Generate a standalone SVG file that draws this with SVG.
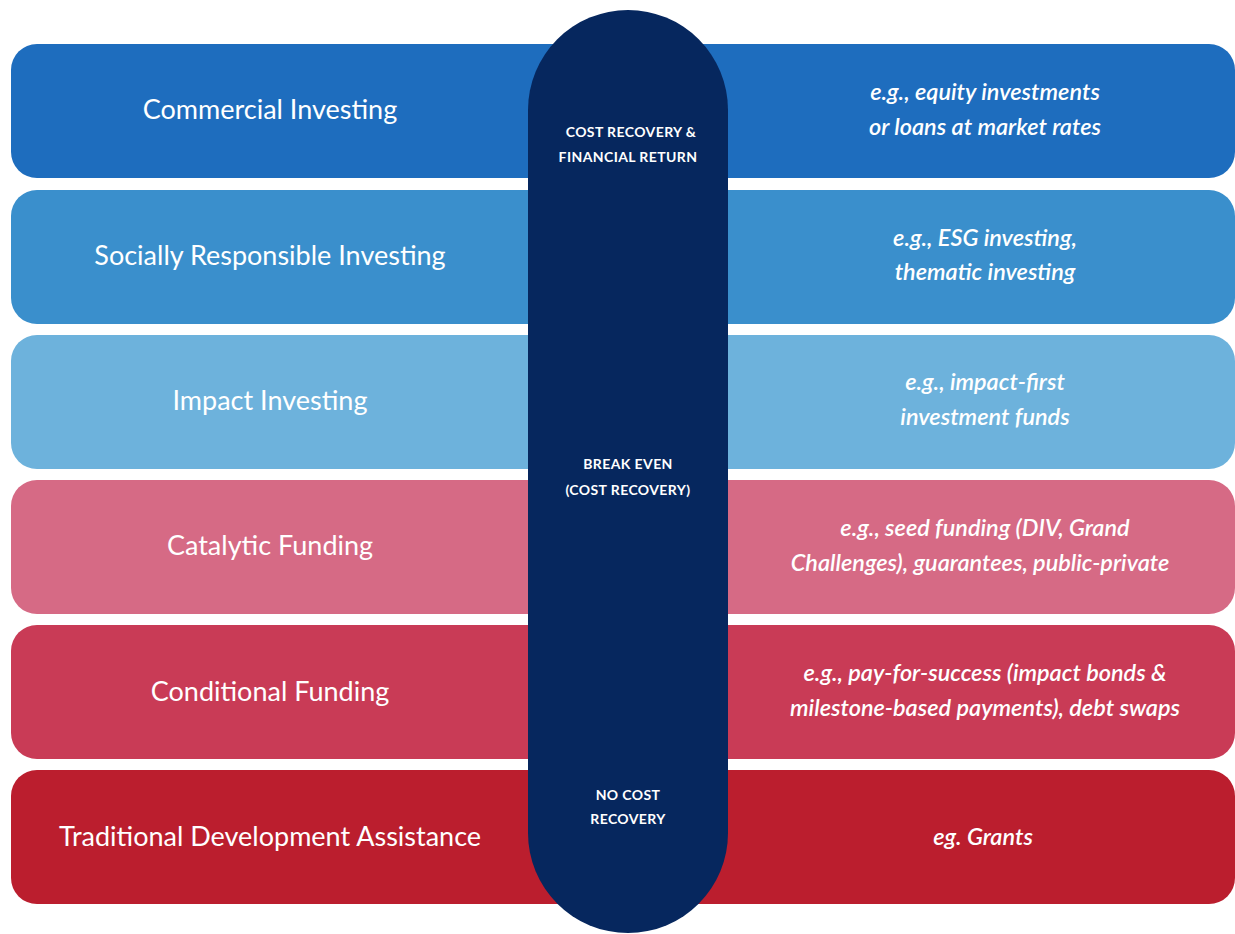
<svg xmlns="http://www.w3.org/2000/svg" width="1235" height="934" viewBox="0 0 1235 934">
<style>
.bar{stroke:none}
.lt{font-family:Lato,"Open Sans","Liberation Sans",sans-serif;font-size:27px;font-weight:normal;fill:#ffffff;text-anchor:middle}
.rt{font-family:Lato,"Open Sans","Liberation Sans",sans-serif;font-size:23.5px;font-style:italic;font-weight:600;fill:#ffffff;text-anchor:middle}
.pt{font-family:Lato,"Open Sans","Liberation Sans",sans-serif;font-size:14px;font-weight:bold;fill:#ffffff;text-anchor:middle;letter-spacing:0.4px}
</style>
<rect width="1235" height="934" fill="#ffffff"/>
<g id="row1">
<rect class="bar" x="11" y="44" width="1224" height="134" rx="26" fill="#1e6dbe"/>
<text class="lt" x="270" y="119">Commercial Investing</text>
<text class="rt" x="985" y="100">e.g., equity investments</text>
<text class="rt" x="985" y="135">or loans at market rates</text>
</g>
<g id="row2">
<rect class="bar" x="11" y="190" width="1224" height="134" rx="26" fill="#3a8fcc"/>
<text class="lt" x="270" y="265">Socially Responsible Investing</text>
<text class="rt" x="985" y="246">e.g., ESG investing,</text>
<text class="rt" x="985" y="280">thematic investing</text>
</g>
<g id="row3">
<rect class="bar" x="11" y="335" width="1224" height="134" rx="26" fill="#6db2dc"/>
<text class="lt" x="270" y="410">Impact Investing</text>
<text class="rt" x="985" y="390">e.g., impact-first</text>
<text class="rt" x="985" y="425">investment funds</text>
</g>
<g id="row4">
<rect class="bar" x="11" y="480" width="1224" height="134" rx="26" fill="#d66a85"/>
<text class="lt" x="270" y="555">Catalytic Funding</text>
<text class="rt" x="985" y="536">e.g., seed funding (DIV, Grand</text>
<text class="rt" x="980" y="571">Challenges), guarantees, public-private</text>
</g>
<g id="row5">
<rect class="bar" x="11" y="625" width="1224" height="134" rx="26" fill="#c93b56"/>
<text class="lt" x="270" y="701">Conditional Funding</text>
<text class="rt" x="985" y="681">e.g., pay-for-success (impact bonds &amp;</text>
<text class="rt" x="985" y="716">milestone-based payments), debt swaps</text>
</g>
<g id="row6">
<rect class="bar" x="11" y="770" width="1224" height="134" rx="26" fill="#bb1e2e"/>
<text class="lt" x="270" y="846">Traditional Development Assistance</text>
<text class="rt" x="983" y="845">eg. Grants</text>
</g>
<g id="spine">
<rect x="528" y="10" width="200" height="923" rx="100" fill="#06275e"/>
<text class="pt" x="631" y="137">COST RECOVERY &amp;</text>
<text class="pt" x="628" y="162">FINANCIAL RETURN</text>
<text class="pt" x="628" y="469">BREAK EVEN</text>
<text class="pt" x="628" y="495">(COST RECOVERY)</text>
<text class="pt" x="628" y="800">NO COST</text>
<text class="pt" x="628" y="824">RECOVERY</text>
</g>
</svg>
